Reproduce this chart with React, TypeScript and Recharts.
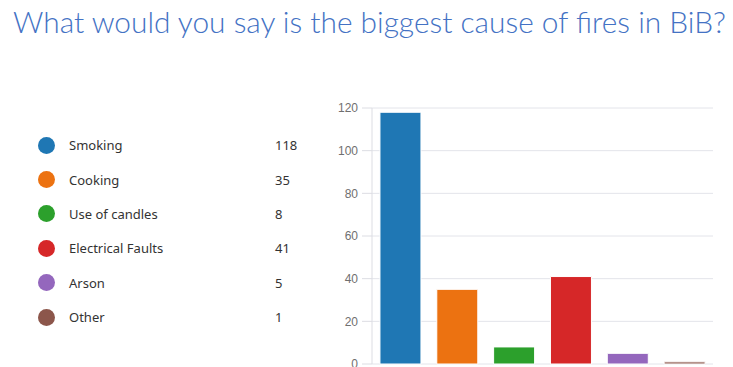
import React from 'react'
import { BarChart, Bar, XAxis, YAxis, CartesianGrid, Cell } from 'recharts'

// Survey answers: biggest cause of fires
const causes = ['Smoking', 'Cooking', 'Use of candles', 'Electrical Faults', 'Arson', 'Other']
const counts = [118, 35, 8, 41, 5, 1]
const colors = ['#1f77b4', '#ec7211', '#2ca02c', '#d62728', '#9467bd', '#8c564b']
const yTicks = [0, 20, 40, 60, 80, 100, 120]

const data = causes.map((name, i) => ({ name, count: counts[i] }))

function LegendList() {
  return (
    <div
      style={{
        position: 'absolute',
        left: 38,
        top: 128,
        fontFamily: '"Noto Sans", sans-serif',
        fontSize: 13,
        color: '#333',
      }}
    >
      {data.map((d, i) => (
        <div key={d.name} style={{ display: 'flex', alignItems: 'center', height: 34.4 }}>
          <span
            style={{
              width: 17,
              height: 17,
              borderRadius: '50%',
              background: colors[i],
              display: 'inline-block',
            }}
          />
          <span style={{ marginLeft: 14, width: 206 }}>{d.name}</span>
          <span>{d.count}</span>
        </div>
      ))}
    </div>
  )
}

export default function App() {
  return (
    <div
      style={{
        position: 'absolute',
        left: 0,
        top: 0,
        width: 733,
        height: 367,
        overflow: 'hidden',
        background: '#fff',
      }}
    >
      <svg width={733} height={60} style={{ position: 'absolute', left: 0, top: 0 }}>
        <text
          x={13}
          y={33}
          textLength={713}
          lengthAdjust="spacingAndGlyphs"
          fill="#4472c4"
          style={{ fontFamily: 'Lato, sans-serif', fontWeight: 300, fontSize: 30 }}
        >
          What would you say is the biggest cause of fires in BiB?
        </text>
      </svg>

      <LegendList />

      <div style={{ position: 'absolute', left: 0, top: 0 }}>
        <BarChart
          width={733}
          height={390}
          data={data}
          margin={{ top: 108, right: 20, bottom: 26, left: 322 }}
          barCategoryGap="14%"
        >
          <CartesianGrid vertical={false} stroke="#e3e4ea" />
          <XAxis dataKey="name" hide />
          <YAxis
            width={50}
            domain={[0, 120]}
            ticks={yTicks}
            interval={0}
            tickSize={10}
            tickMargin={4}
            axisLine={{ stroke: '#dcdde3' }}
            tickLine={{ stroke: '#dcdde3' }}
            tick={{ fill: '#6f6f6f', fontSize: 12, fontFamily: '"Liberation Sans", Arial, sans-serif' }}
          />
          <Bar dataKey="count" isAnimationActive={false} stroke="#fff" strokeWidth={1}>
            {data.map((d, i) => (
              <Cell key={d.name} fill={colors[i]} />
            ))}
          </Bar>
        </BarChart>
      </div>
    </div>
  )
}
